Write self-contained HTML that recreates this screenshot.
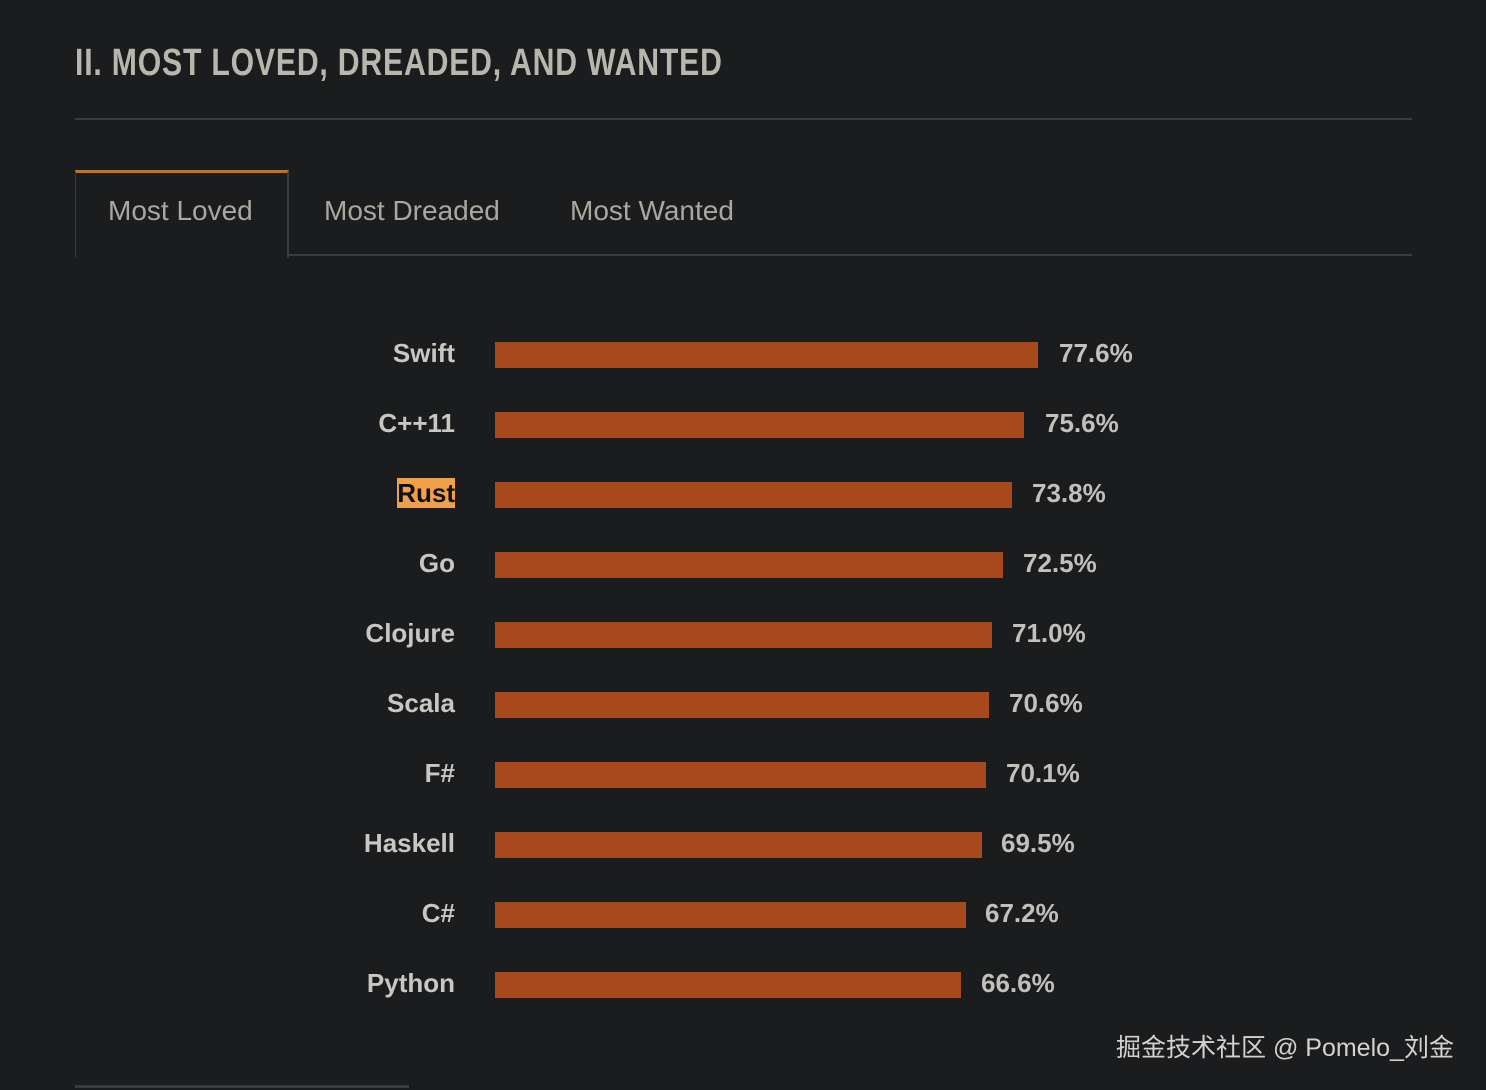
<!DOCTYPE html>
<html><head><meta charset="utf-8"><style>
body{margin:0;width:1486px;height:1090px;background:#1b1c1e;position:relative;overflow:hidden;font-family:"Liberation Sans",sans-serif;}
.t{position:absolute;left:75px;top:42px;font-size:38px;font-weight:bold;color:#b9b6ad;letter-spacing:1px;transform:scaleX(0.795);transform-origin:0 0;white-space:nowrap;}
.hr{position:absolute;left:75px;width:1337px;height:2px;background:#3a3b3d;}
.tab{position:absolute;top:195px;font-size:28px;color:#aaa79f;}
.lab{position:absolute;width:200px;left:255px;text-align:right;font-size:26px;font-weight:bold;color:#c9c7c2;}
.bar{position:absolute;left:495px;height:26px;background:#a8491d;}
.val{position:absolute;font-size:26px;font-weight:bold;color:#c2c0bb;}
</style></head><body>
<div class="t">II. MOST LOVED, DREADED, AND WANTED</div>
<div class="hr" style="top:118px"></div>
<div style="position:absolute;left:287px;top:254px;width:1125px;height:2px;background:#3a3b3d"></div>
<div style="position:absolute;left:75px;top:170px;width:211px;height:85px;border-left:1px solid #3a3b3d;border-right:2px solid #3a3b3d;border-top:3px solid #b8742a;"></div>
<div class="tab" style="left:108px">Most Loved</div>
<div class="tab" style="left:324px">Most Dreaded</div>
<div class="tab" style="left:570px">Most Wanted</div>

<div class="lab" style="top:338px">Swift</div><div class="bar" style="top:342px;width:543px"></div><div class="val" style="left:1059px;top:338px">77.6%</div>
<div class="lab" style="top:408px">C++11</div><div class="bar" style="top:412px;width:529px"></div><div class="val" style="left:1045px;top:408px">75.6%</div>
<div class="lab" style="top:478px"><span style="background:#f0a04b;color:#111">Rust</span></div><div class="bar" style="top:482px;width:517px"></div><div class="val" style="left:1032px;top:478px">73.8%</div>
<div class="lab" style="top:548px">Go</div><div class="bar" style="top:552px;width:508px"></div><div class="val" style="left:1023px;top:548px">72.5%</div>
<div class="lab" style="top:618px">Clojure</div><div class="bar" style="top:622px;width:497px"></div><div class="val" style="left:1012px;top:618px">71.0%</div>
<div class="lab" style="top:688px">Scala</div><div class="bar" style="top:692px;width:494px"></div><div class="val" style="left:1009px;top:688px">70.6%</div>
<div class="lab" style="top:758px">F#</div><div class="bar" style="top:762px;width:491px"></div><div class="val" style="left:1006px;top:758px">70.1%</div>
<div class="lab" style="top:828px">Haskell</div><div class="bar" style="top:832px;width:487px"></div><div class="val" style="left:1001px;top:828px">69.5%</div>
<div class="lab" style="top:898px">C#</div><div class="bar" style="top:902px;width:471px"></div><div class="val" style="left:985px;top:898px">67.2%</div>
<div class="lab" style="top:968px">Python</div><div class="bar" style="top:972px;width:466px"></div><div class="val" style="left:981px;top:968px">66.6%</div>

<div style="position:absolute;left:1116px;top:1028px;font-size:25px;color:#d4d2ce;font-family:'Liberation Sans','Noto Sans CJK SC',sans-serif;white-space:nowrap">掘金技术社区 @ Pomelo_刘金</div>
<div style="position:absolute;left:75px;top:1085px;width:334px;height:3px;background:#3a3b3d"></div>
</body></html>
